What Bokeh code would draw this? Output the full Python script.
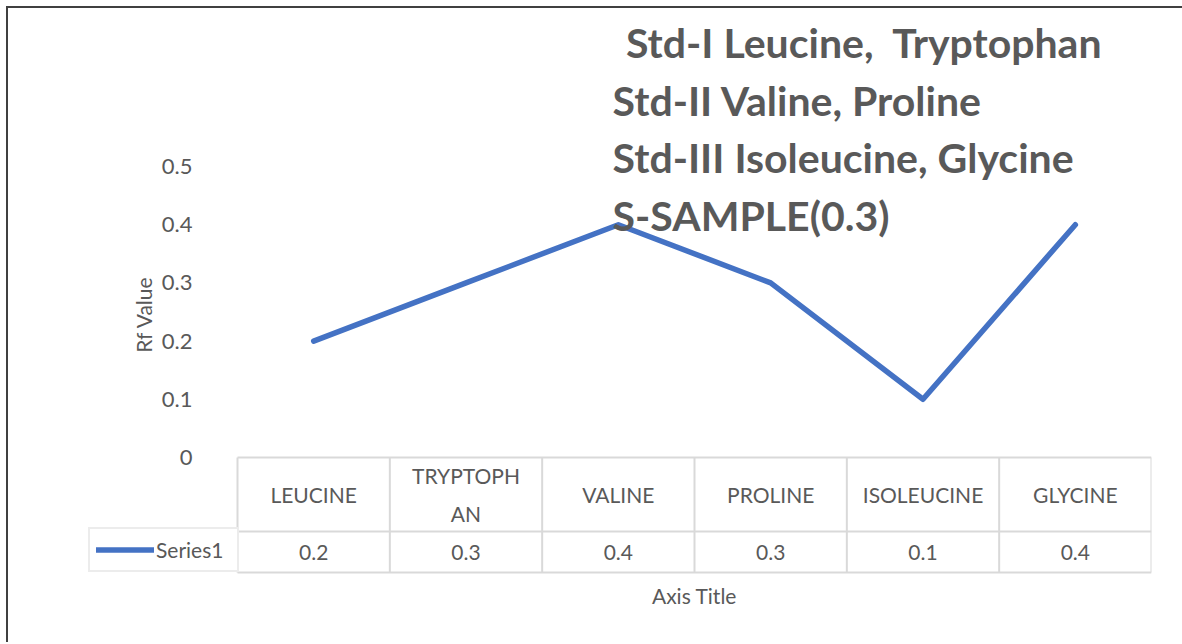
import math
from bokeh.plotting import figure
from bokeh.layouts import column, row
from bokeh.models import Range1d, FixedTicker, Legend, LegendItem, Div, Spacer
from bokeh.core.properties import value
from bokeh.embed import file_html
from bokeh.resources import INLINE

# ---- data ----
categories = ["LEUCINE", "TRYPTOPHAN", "VALINE", "PROLINE", "ISOLEUCINE", "GLYCINE"]
header_labels = ["LEUCINE", "TRYPTOPH\nAN", "VALINE", "PROLINE", "ISOLEUCINE", "GLYCINE"]
series_name = "Series1"
rf_values = [0.2, 0.3, 0.4, 0.3, 0.1, 0.4]
y_ticks = [0, 0.1, 0.2, 0.3, 0.4, 0.5]
y_tick_labels = ["0", "0.1", "0.2", "0.3", "0.4", "0.5"]
note_lines = ["Std-I Leucine,\u00a0 Tryptophan", "Std-II Valine, Proline",
              "Std-III Isoleucine, Glycine", "S-SAMPLE(0.3)"]

# ---- style / layout ----
FONT = "Lato"
GREY = "#595959"
GRID = "#d9d9d9"
BLUE = "#4472C4"
EDGE = "#404040"
PX = 1.0 / 582.0           # data units per pixel (vertical)
CW = 914.0 / 6.0           # pixels per category column
ROW1 = -74 * PX            # header row bottom
ROW2 = -115 * PX           # value row bottom

n = len(categories)
xs = list(range(n))

p = figure(width=1166, height=628, output_backend="svg", toolbar_location=None,
           x_range=Range1d(-0.5 - 149 / CW, n - 0.5),
           y_range=Range1d(-163 * PX, 449 * PX),
           x_axis_location=None, min_border_left=80, min_border_right=23,
           min_border_top=0, min_border_bottom=16)
p.outline_line_color = None
p.xgrid.visible = False
p.ygrid.visible = False

ax = p.yaxis[0]
ax.fixed_location = -0.5 - 40 / CW
ax.ticker = FixedTicker(ticks=y_ticks)
ax.major_label_overrides = {t: l for t, l in zip(y_ticks, y_tick_labels)}
ax.axis_line_color = None
ax.major_tick_line_color = None
ax.minor_tick_line_color = None
ax.major_tick_in = 0
ax.major_tick_out = 0
ax.major_label_standoff = 5
ax.major_label_text_font = FONT
ax.major_label_text_font_size = "22px"
ax.major_label_text_color = GREY
ax.axis_label = "Rf Value"
ax.axis_label_text_font = FONT
ax.axis_label_text_font_style = "normal"
ax.axis_label_text_font_size = "21px"
ax.axis_label_text_color = GREY
ax.axis_label_standoff = 3

# ---- data table grid ----
hy = [0, ROW1, ROW2]
p.segment(x0=[-0.5] * 3, y0=hy, x1=[n - 0.5] * 3, y1=hy, line_color=GRID, line_width=2)
vx = [i - 0.5 for i in range(n + 1)]
p.segment(x0=vx, y0=[0] * len(vx), x1=vx, y1=[ROW2] * len(vx), line_color=GRID, line_width=2)

p.text(x=xs, y=[ROW1 / 2] * n, text=header_labels, text_align="center",
       text_baseline="middle", text_font=value(FONT), text_font_size="21px",
       text_color=GREY, text_line_height=1.55)
p.text(x=xs, y=[(ROW1 + ROW2) / 2] * n, text=[str(v) for v in rf_values],
       text_align="center", text_baseline="middle", text_font=value(FONT),
       text_font_size="21px", text_color=GREY)
p.text(x=[(n - 1) / 2], y=[-138 * PX], text=["Axis Title"], text_align="center",
       text_baseline="middle", text_font=value(FONT), text_font_size="21px",
       text_color=GREY)

# ---- series line ----
r = p.line(x=xs, y=rf_values, line_color=BLUE, line_width=5.5, line_cap="round",
           line_join="round")

# ---- annotation text box ----
p.text(x=[2.05, 1.962, 1.962, 1.962],
       y=[415 * PX, 357 * PX, 300 * PX, 242 * PX], text=note_lines,
       text_align="left", text_baseline="middle", text_font=value(FONT),
       text_font_style="bold", text_font_size="41px", text_color=GREY)

# ---- legend key cell (left of the data table) ----
legend = Legend(items=[LegendItem(label=series_name, renderers=[r])],
                location=(0, 48), orientation="vertical",
                padding=6, margin=0, spacing=0,
                glyph_width=58, glyph_height=29, label_height=29, label_width=75,
                label_standoff=2, label_text_font=FONT, label_text_font_size="21px",
                label_text_color=GREY, border_line_color=GRID, border_line_width=2,
                background_fill_color="white", background_fill_alpha=1.0)
p.add_layout(legend)

# ---- chart-area frame edges (left and top) ----
top_bar = Div(text="", width=1176, height=2, margin=0,
              styles={"background-color": EDGE})
left_bar = Div(text="", width=2, height=634, margin=0,
               styles={"background-color": EDGE})
layout = column(Spacer(height=6, width=6, margin=0),
                row(Spacer(width=6, height=6, margin=0),
                    column(top_bar, row(left_bar, p, spacing=0), spacing=0),
                    spacing=0),
                spacing=0)

open("out.html", "w").write(file_html(layout, INLINE))
